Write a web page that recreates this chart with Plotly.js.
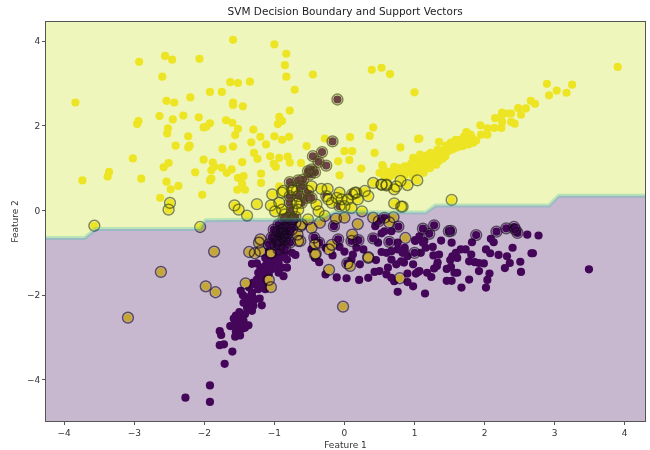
<!DOCTYPE html>
<html><head><meta charset="utf-8">
<script src="https://cdn.plot.ly/plotly-3.0.1.min.js"></script>
<style>html,body{margin:0;padding:0;background:#fff}#chart{width:650px;height:450px;filter:blur(0.65px)}</style>
</head><body><div id="chart"></div>
<script>
var yellowPoints=[[-3.84,2.55],[-2.93,3.51],[-2.56,3.65],[-2.46,3.56],[-2.07,3.58],[-2.60,3.16],[-1.92,2.80],[-2.20,2.67],[-2.54,2.59],[-2.43,2.55],[-2.64,2.23],[-2.30,2.24],[-2.45,2.15],[-2.08,2.20],[-2.94,2.11],[-2.96,2.04],[-2.52,1.94],[-2.53,1.82],[-2.01,1.96],[-1.97,1.98],[-1.92,2.06],[-2.23,1.75],
[-1.69,2.13],[-1.60,2.07],[-1.52,1.93],[-1.56,1.78],[-1.30,1.91],[-1.20,1.74],[-1.33,1.61],[-2.41,1.53],[-2.21,1.53],[-2.23,1.49],[-1.74,1.45],[-1.59,1.51],[-1.29,1.36],[-1.24,1.22],[-3.02,1.23],[-2.01,1.20],[-1.88,1.13],[-1.46,1.14],[-2.51,1.12],[-2.58,1.02],[-1.86,1.04],[-1.90,0.95],[-1.75,1.01],[-1.61,0.97],[-1.68,0.89],[-2.13,0.90],[-3.36,0.91],[-3.38,0.80],[-3.74,0.71],[-2.90,0.75],[-2.54,0.68],[-2.37,0.58],[-2.48,0.50],[-1.90,0.75],[-1.92,0.71],[-1.52,0.77],[-1.44,0.81],[-1.46,0.63],[-1.53,0.49],[-1.42,0.49],[-1.19,0.87],[-1.19,0.65],[-2.03,0.37],[-2.63,0.30],
[-1.59,4.03],[-1.00,3.92],[-0.83,3.70],[-0.85,3.43],[-0.83,3.16],[-0.45,3.21],[0.39,3.32],[0.53,3.37],[0.65,3.22],[-1.63,3.03],[-1.52,3.01],[-1.35,3.04],[-1.75,2.80],[-0.71,2.85],[-1.59,2.55],[-1.59,2.49],[-1.45,2.46],[-0.78,2.36],[-0.93,2.21],[-0.89,2.11],[-0.95,2.04],[-1.00,1.75],[-0.79,1.74],[-0.89,1.67],[0.41,1.96],[0.36,1.76],[0.08,1.73],[-0.28,1.70],
[-0.54,1.52],[-1.12,1.56],[-1.06,1.28],[-0.93,1.24],[-0.81,1.27],[-0.78,1.13],[-0.62,1.12],[-1.01,1.10],[-0.98,1.03],[-0.93,0.57],[0.80,1.49],[0.00,1.40],[0.11,1.40],[0.43,1.36],[-0.09,1.16],[0.07,1.19],[0.54,1.07],[0.24,0.99],[0.50,0.89],[-0.07,0.83],[1.07,1.70],[0.98,1.24],
[1.00,2.79],[3.90,3.39],[2.89,2.99],[3.25,2.97],[3.03,2.83],[3.17,2.78],[2.92,2.72],[2.66,2.59],[2.72,2.52],[2.59,2.41],[2.48,2.42],[2.52,2.26],[2.38,2.29],[2.34,2.29],[2.25,2.31],[2.15,2.18],[2.24,2.22],[2.25,2.09],[2.38,2.09],[2.43,2.05],[1.94,2.01],[2.14,1.95],[2.24,1.95],[2.04,1.94],[2.04,1.79],[1.95,1.79],[1.74,1.85],[1.80,1.79],[1.71,1.75],[1.88,1.65],[1.77,1.56],[1.69,1.52],[1.61,1.65],[1.52,1.60],[1.59,1.48],[1.47,1.48],[1.35,1.62],[1.05,1.69],[1.43,1.36],[1.33,1.44],[1.23,1.36],[1.38,1.24],[1.28,1.24],[1.08,1.32],[1.02,1.20],[1.14,1.16],[1.31,1.08],[1.19,1.08],[1.09,1.12],[1.02,1.04],[0.86,1.04],[0.71,1.03],[0.79,0.93],[0.93,0.93],[1.05,0.93],[1.13,0.89],[0.55,1.04],[0.71,0.85],[0.86,0.83],[0.98,0.81],[0.64,0.79],[0.55,0.85],[1.59,1.67],[1.66,1.63],[1.45,1.53],[1.24,1.20],[1.16,1.28],
[0.62,0.92],[0.72,0.95],[0.82,0.90],[0.90,0.98],[0.97,1.00],[1.00,1.10],[1.07,1.05],[1.12,1.02],[1.16,1.12],[1.20,1.18],[1.22,1.10],[1.27,1.14],[1.30,1.18],[1.34,1.30],[1.37,1.34],[1.40,1.42],[1.44,1.28],[1.48,1.40],[1.50,1.50],[1.54,1.44],[1.56,1.54],[1.62,1.50],[1.65,1.58],[1.68,1.68],[1.72,1.62],[1.75,1.70],[1.78,1.66],[1.82,1.72],[1.84,1.60],[1.10,1.22],[1.18,1.30],[1.25,1.30],[1.30,1.32],[0.95,1.10],[0.78,1.00],[0.66,0.86],[0.60,0.78],[1.40,1.22],[1.34,1.16],[1.22,1.00],[1.15,0.98],[1.05,1.00]];
var purplePoints=[[2.61,-0.57],[2.77,-0.59],[1.38,-0.71],[1.53,-0.76],[1.82,-0.75],[2.09,-0.67],[2.13,-0.75],[1.01,-0.70],[1.07,-0.61],[1.14,-0.72],[1.26,-0.86],[2.40,-0.88],[2.02,-0.92],[2.08,-1.01],[2.20,-1.05],[2.32,-1.08],[2.67,-1.01],[2.69,-1.01],[2.51,-1.21],[2.36,-1.24],[2.29,-1.36],[2.52,-1.45],[3.49,-1.39],[1.66,-0.92],[1.59,-1.00],[1.73,-0.92],[1.54,-1.08],[1.61,-1.12],[1.81,-1.04],[1.51,-1.17],[1.78,-1.20],[1.86,-1.22],[1.92,-1.24],[1.99,-1.25],[1.27,-1.06],[1.35,-1.04],[1.33,-1.23],[1.32,-1.31],[1.28,-1.37],[1.52,-1.33],[1.46,-1.38],[1.57,-1.47],[1.61,-1.47],[1.92,-1.43],[2.07,-1.49],[2.04,-1.64],[2.02,-1.82],[1.78,-1.63],[1.46,-1.66],[1.53,-1.66],[1.67,-1.82],[1.15,-1.96],[0.98,-1.79],[1.24,-1.57],[1.18,-1.47],[1.07,-1.43],[1.02,-1.49],[0.90,-1.49],[0.98,-1.27],[0.90,-1.69],[0.86,-0.88],[0.83,-1.00],[1.09,-1.00],[1.16,-0.88],[0.90,-1.08],[0.85,-1.23],
[0.53,-0.54],[0.57,-0.49],[0.44,-0.37],[0.67,-0.49],[1.01,-0.72],[0.48,-0.76],[0.76,-0.76],[1.12,-0.76],[-0.07,-0.86],[0.00,-0.97],[-0.17,-1.06],[-0.27,-0.88],[-0.47,-0.92],[-0.42,-1.12],[-0.36,-1.22],[0.12,-1.04],[0.17,-0.88],[0.27,-0.92],[0.22,-1.27],[0.10,-1.16],[0.45,-1.17],[0.53,-0.98],[0.67,-0.96],[0.60,-1.00],[0.76,-0.92],[0.86,-0.96],[0.67,-1.16],[0.81,-1.20],[0.74,-1.27],[0.62,-1.35],[0.50,-1.43],[0.43,-1.45],[0.60,-1.51],[0.67,-1.59],[0.71,-1.67],[1.05,-1.45],[0.76,-1.92],[0.34,-1.59],[0.21,-1.64],[0.03,-1.60],[-0.11,-1.58],[-0.27,-1.51],
[-2.27,-4.42],[-1.92,-4.13],[-1.92,-4.52],[-1.71,-3.62],[-1.60,-3.33],[-1.72,-3.16],[-1.78,-3.18],[-1.76,-2.94],[-1.78,-2.85],[-1.56,-2.98],[-1.49,-2.95],[-1.63,-2.73],[-1.55,-2.48],[-1.56,-2.61],[-1.49,-2.53],[-1.44,-2.61],[-1.37,-2.71],[-1.53,-2.74],[-1.46,-2.79],[-1.42,-2.77],[-1.32,-2.37],[-1.39,-2.30],[-1.44,-2.18],[-1.34,-2.14],[-1.18,-2.24],[-1.21,-2.08],[-1.32,-2.02],[-1.48,-1.90],[-1.36,-1.82],[-1.13,-1.86],[-1.23,-1.86],[-1.32,-1.94],[-1.25,-1.63],[-1.18,-1.55],[-1.23,-1.47],[-1.11,-1.63],[-1.16,-1.75],[-1.32,-1.26],[-0.87,-1.55],[-0.82,-1.35],[-0.89,-1.35],[-0.82,-1.16],[-1.04,-1.39],[-1.13,-1.31],[-1.04,-1.23],[-0.94,-1.23],[-1.13,-1.12],[-1.04,-1.08],[-0.94,-1.08],[-0.94,-1.47],[-1.27,-1.75],
[-1.10,-1.20],[-1.00,-1.15],[-0.90,-1.10],[-0.85,-1.00],[-1.00,-1.00],[-1.08,-0.95],[-0.95,-1.35],[-1.20,-1.35],[-1.25,-1.25],[-1.15,-1.45],[-1.08,-1.50],[-1.30,-1.70],[-1.20,-1.70],[-1.10,-1.45],[-1.38,-2.05],[-1.28,-2.10],[-1.40,-2.15],[-1.30,-2.25],[-1.45,-2.00],[-1.50,-2.65],[-1.58,-2.55],[-1.42,-2.45],[-1.50,-2.40],[-1.60,-2.72],[-1.55,-2.85],[-0.75,-1.00],[-0.70,-1.05]];
var yellowSupport=[[-3.57,-0.36],[-2.49,0.18],[-2.51,0.02],[-1.57,0.12],[-1.51,0.02],[-1.25,0.15],[-1.39,-0.12],[-2.06,-0.39],[-1.86,-0.97],[-2.62,-1.45],[-1.98,-1.79],[-1.84,-1.93],[-3.09,-2.53],[1.04,0.71],[0.90,0.60],[0.80,0.70],[0.74,0.57],[0.60,0.61],[1.53,0.25],[0.83,0.09],
[0.19,-0.32],[0.41,-0.17],[0.70,-0.16],[0.64,-0.28],[0.87,-0.65],[0.11,-0.57],[-0.18,-0.81],[-0.42,-0.80],[-0.22,-0.92],[-0.41,-1.02],[0.34,-1.10],[0.08,-1.31],[-0.22,-1.40],[0.79,-1.60],[-0.02,-2.27],[-0.12,-0.19],[0.00,-0.17],
[-1.41,-1.72],[-1.05,-1.81],[-1.08,-1.64],[-1.36,-0.98],[-1.28,-1.01],[-1.20,-0.96],[-1.05,-1.01],[-1.22,-0.76],[-0.66,-0.72],
[-1.03,0.38],[-0.93,0.18],[-1.05,0.12],[-0.99,-0.02],[-0.89,0.02],[-0.87,0.46],[-0.74,0.48],[-0.33,0.51],[-0.24,0.51],[-0.47,0.57],[-0.07,0.42],[-0.40,0.14],[-0.37,-0.02],[-0.28,-0.13],[-0.52,-0.21],[-0.61,-0.33],[-0.47,-0.41],[-0.35,-0.29],[-0.66,0.02],[-0.68,0.17],[0.15,0.42],[0.29,0.46],[0.41,0.65],[0.53,0.61],[0.71,0.50],[0.71,0.17],[0.81,0.09],[0.05,0.26],[-0.04,0.26],[-0.11,0.30],[0.19,0.26],[0.34,0.34],[0.10,0.06],[0.00,0.10],[-0.18,0.18],[-0.23,0.26],[0.25,-0.02],[-0.63,-0.72],[-0.67,-0.57],[-1.20,-0.68],[-0.63,-0.37],[-0.89,0.42],[-0.42,-1.04],[0.34,-1.12]];
var purpleSupport=[[1.12,-0.43],[1.28,-0.35],[1.21,-0.55],[1.52,-0.48],[1.88,-0.58],[2.17,-0.50],[2.31,-0.42],[2.42,-0.39],[2.47,-0.53],[2.44,-0.45],[1.00,-1.00],[1.49,-0.49],
[-0.15,-0.37],[-0.43,-0.64],[-0.36,-0.76],[-0.09,-0.68],[0.10,-0.72],[0.20,-0.70],[0.41,-0.66],[0.64,-0.74],[0.04,-1.25],[0.49,-0.25],[0.57,-0.17],[0.77,-0.38],
[-0.10,2.62],[-0.17,1.63],[-0.45,1.28],[-0.32,1.38],[-0.37,1.15],[-0.26,1.06],[-0.52,0.93],[-0.42,0.90],[-0.47,0.97],[-0.49,0.85],[-0.66,0.71],[-0.78,0.67],[-0.59,0.73],[-0.61,0.57],[-0.75,0.54],[-0.68,0.46],[-0.78,0.34],[-0.66,0.34],[-0.54,0.30],[-0.47,0.30],[-0.78,0.18],[-0.61,0.18],[-0.52,0.46],[-0.75,0.02],[-0.80,-0.17],[-0.70,-0.15],[-0.85,-0.09],[-0.26,0.34],[0.11,0.38],[0.17,0.42],[-0.07,0.10],[0.53,0.61],[0.60,0.59],
[-0.89,-0.45],[-0.97,-0.61],[-0.85,-0.68],[-0.92,-0.80],[-0.82,-0.37],[-0.75,-0.21],[-0.99,-0.80],[-0.87,-0.53],[-0.80,-0.53],[-1.01,-0.45],[-0.94,-0.33],[-0.75,-0.45],[-0.70,-0.29],[-0.85,-0.88],[-0.94,-0.92],[-0.78,-0.76],[-0.87,-0.21],[-1.04,-0.64],[-1.08,-0.80],[-0.90,-0.52],[-0.88,-0.62],[-0.95,-0.50],[-0.83,-0.60],[-0.92,-0.70],[-0.86,-0.42],[-0.96,-0.72]];
var boundaryX=[-4.26,-3.71,-3.55,-2.06,-1.98,-0.37,-0.14,1.16,1.30,2.92,3.06,4.29];
var boundaryY=[-0.65,-0.65,-0.44,-0.44,-0.23,-0.21,-0.04,-0.05,0.12,0.12,0.35,0.35];
var xRange=[-4.26,4.29], yRange=[-4.97,4.45];
var xTicks=[-4,-3,-2,-1,0,1,2,3,4], yTicks=[-4,-2,0,2,4];
var tickText=function(a){return a.map(function(v){return v<0?'\u2212'+Math.abs(v):String(v);});};
var xs=function(a){return a.map(function(p){return p[0];});};
var ys=function(a){return a.map(function(p){return p[1];});};
var purple=purplePoints.concat(purpleSupport), yellow=yellowPoints.concat(yellowSupport), support=purpleSupport.concat(yellowSupport);
var traces=[
 {type:'scatter',mode:'markers',x:xs(purple),y:ys(purple),marker:{size:8.2,color:'#440154'}},
 {type:'scatter',mode:'markers',x:xs(yellow),y:ys(yellow),marker:{size:8.2,color:'#fde725'}},
 {type:'scatter',mode:'markers',x:xs(support),y:ys(support),marker:{size:10.8,color:'rgba(0,0,0,0)',line:{color:'rgba(0,0,0,0.62)',width:1.5}}},
 {type:'scatter',mode:'lines',x:boundaryX.concat([xRange[1],xRange[0]]),y:boundaryY.concat([yRange[1],yRange[1]]),fill:'toself',fillcolor:'rgba(201,225,32,0.3)',line:{width:0}},
 {type:'scatter',mode:'lines',x:boundaryX.concat([xRange[1],xRange[0]]),y:boundaryY.concat([yRange[0],yRange[0]]),fill:'toself',fillcolor:'rgba(71,20,100,0.3)',line:{width:0}},
 {type:'scatter',mode:'lines',x:boundaryX,y:boundaryY,line:{color:'rgba(60,190,170,0.3)',width:4}}
];
var font={family:'DejaVu Sans',size:9,color:'#333333'};
var layout={width:650,height:450,showlegend:false,hovermode:false,paper_bgcolor:'#fff',plot_bgcolor:'#fff',
 margin:{l:46,r:5,t:22,b:29,pad:0},font:font,
 title:{text:'SVM Decision Boundary and Support Vectors',font:{family:'DejaVu Sans',size:10.5,color:'#222'},x:0.531,xanchor:'center',y:0.975,yanchor:'middle'},
 xaxis:{range:xRange,tickvals:xTicks,ticktext:tickText(xTicks),showgrid:false,zeroline:false,showline:true,mirror:true,linecolor:'#555',linewidth:1,ticks:'outside',ticklen:3,tickcolor:'#555',tickfont:font,title:{text:'Feature 1',font:font,standoff:4}},
 yaxis:{range:yRange,tickvals:yTicks,ticktext:tickText(yTicks),showgrid:false,zeroline:false,showline:true,mirror:true,linecolor:'#555',linewidth:1,ticks:'outside',ticklen:3,tickcolor:'#555',tickfont:font,title:{text:'Feature 2',font:font,standoff:6}}
};
Plotly.newPlot('chart',traces,layout,{displayModeBar:false,staticPlot:true});
</script></body></html>
